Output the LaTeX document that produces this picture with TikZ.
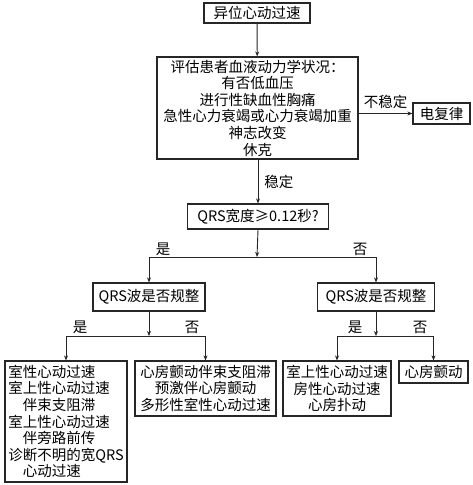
\documentclass[tikz,border=0pt]{standalone}
\usepackage{fontspec}
\setmainfont{Noto Sans CJK SC}
\usetikzlibrary{arrows.meta}
\begin{document}
\begin{tikzpicture}[x=1pt,y=-1pt,
  box/.style={draw=black!85, line width=1.2pt, inner sep=0pt, align=center, font=\fontsize{14.5}{16.6}\selectfont},
  conn/.style={draw=black!85, line width=0.9pt},
  arr/.style={conn, -{Stealth[length=5pt,width=4pt]}},
  lbl/.style={font=\fontsize{14.5}{16.6}\selectfont, inner sep=0pt}]
\useasboundingbox (0,0) rectangle (473,485);
\fill[white] (0,0) rectangle (473,485);

\node[box, minimum width=106, minimum height=20] (top) at (257,13) {异位心动过速};
\node[box, minimum width=201, minimum height=102] (eval) at (257.5,108)
  {评估患者血液动力学状况：\\有否低血压\\进行性缺血性胸痛\\急性心力衰竭或心力衰竭加重\\神志改变\\休克};
\node[box, minimum width=57, minimum height=21] (dfl) at (441.5,113.5) {电复律};
\node[box, minimum width=141, minimum height=25] (qrs) at (258,216.5) {QRS宽度≥0.12秒?};
\coordinate (j1) at (257,257);
\node[box, minimum width=112, minimum height=28] (L) at (149,297) {QRS波是否规整};
\node[box, minimum width=117, minimum height=28] (R) at (376,297) {QRS波是否规整};
\coordinate (j2) at (149,336);
\coordinate (j3) at (376,336);
\node[box, minimum width=122, minimum height=121, align=left] (A) at (66,421.5)
  {室性心动过速\\室上性心动过速\\\hspace{1em}伴束支阻滞\\室上性心动过速\\\hspace{1em}伴旁路前传\\诊断不明的宽QRS\\\hspace{1em}心动过速};
\node[box, minimum width=141, minimum height=55] (B) at (205.5,388.5)
  {心房颤动伴束支阻滞\\预激伴心房颤动\\多形性室性心动过速};
\node[box, minimum width=108, minimum height=55] (C) at (337,388.5)
  {室上性心动过速\\房性心动过速\\心房扑动};
\node[box, minimum width=69, minimum height=22] (D) at (433.5,372) {心房颤动};

\draw[arr] (top) -- (eval);
\draw[arr] (eval.east |- dfl.west) -- (dfl.west) node[lbl, midway, above=4pt] {不稳定};
\draw[arr] (eval.south -| qrs.north) -- (qrs.north) node[lbl, midway, right=6pt] {稳定};
\draw[arr] (qrs.south) -- (j1);
\draw[arr] (j1) -| (L.north);
\draw[arr] (j1) -| (R.north);
\node[lbl] at (163,249) {是};
\node[lbl] at (360,249) {否};
\draw[arr] (L.south) -- (j2);
\draw[arr] (j2) -| (A.north);
\draw[arr] (j2) -| (B.north);
\draw[arr] (R.south) -- (j3);
\draw[arr] (j3) -| (C.north);
\draw[arr] (j3) -| (D.north);
\node[lbl] at (80,327) {是};
\node[lbl] at (192,327) {否};
\node[lbl] at (355,327) {是};
\node[lbl] at (420,327) {否};
\end{tikzpicture}
\end{document}
